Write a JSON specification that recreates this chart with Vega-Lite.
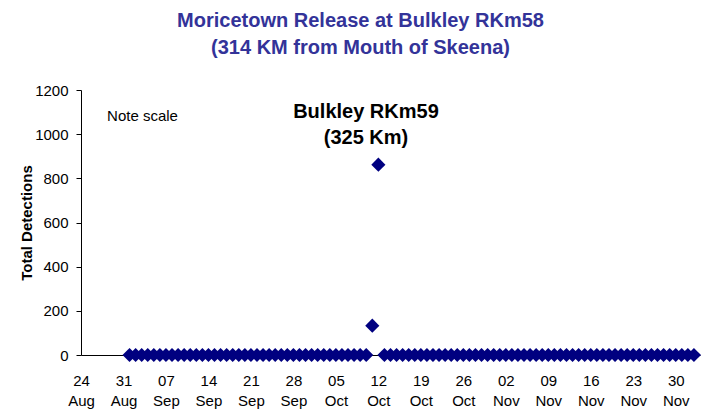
{
  "$schema": "https://vega.github.io/schema/vega-lite/v6.json",
  "autosize": "none",
  "width": 619,
  "height": 265,
  "padding": {"left": 81, "top": 90, "right": 3, "bottom": 59},
  "background": "white",
  "config": {"view": {"stroke": null}, "font": "Liberation Sans"},
  "title": {
    "text": ["Moricetown Release at Bulkley RKm58", "(314 KM from Mouth of Skeena)"],
    "color": "#333399",
    "fontSize": 20,
    "fontWeight": "bold",
    "font": "Liberation Sans",
    "lineHeight": 27,
    "anchor": "middle",
    "dx": -30,
    "offset": 25
  },
  "data": {
    "values": [
      {"date": "2008-09-01", "detections": 0}, {"date": "2008-09-02", "detections": 0}, {"date": "2008-09-03", "detections": 0}, {"date": "2008-09-04", "detections": 0}, {"date": "2008-09-05", "detections": 0}, {"date": "2008-09-06", "detections": 0}, {"date": "2008-09-07", "detections": 0}, {"date": "2008-09-08", "detections": 0}, {"date": "2008-09-09", "detections": 0}, {"date": "2008-09-10", "detections": 0},
      {"date": "2008-09-11", "detections": 0}, {"date": "2008-09-12", "detections": 0}, {"date": "2008-09-13", "detections": 0}, {"date": "2008-09-14", "detections": 0}, {"date": "2008-09-15", "detections": 0}, {"date": "2008-09-16", "detections": 0}, {"date": "2008-09-17", "detections": 0}, {"date": "2008-09-18", "detections": 0}, {"date": "2008-09-19", "detections": 0}, {"date": "2008-09-20", "detections": 0},
      {"date": "2008-09-21", "detections": 0}, {"date": "2008-09-22", "detections": 0}, {"date": "2008-09-23", "detections": 0}, {"date": "2008-09-24", "detections": 0}, {"date": "2008-09-25", "detections": 0}, {"date": "2008-09-26", "detections": 0}, {"date": "2008-09-27", "detections": 0}, {"date": "2008-09-28", "detections": 0}, {"date": "2008-09-29", "detections": 0}, {"date": "2008-09-30", "detections": 0},
      {"date": "2008-10-01", "detections": 0}, {"date": "2008-10-02", "detections": 0}, {"date": "2008-10-03", "detections": 0}, {"date": "2008-10-04", "detections": 0}, {"date": "2008-10-05", "detections": 0}, {"date": "2008-10-06", "detections": 0}, {"date": "2008-10-07", "detections": 0}, {"date": "2008-10-08", "detections": 0}, {"date": "2008-10-09", "detections": 0}, {"date": "2008-10-10", "detections": 0},
      {"date": "2008-10-11", "detections": 133}, {"date": "2008-10-12", "detections": 862},
      {"date": "2008-10-13", "detections": 0}, {"date": "2008-10-14", "detections": 0}, {"date": "2008-10-15", "detections": 0}, {"date": "2008-10-16", "detections": 0}, {"date": "2008-10-17", "detections": 0}, {"date": "2008-10-18", "detections": 0}, {"date": "2008-10-19", "detections": 0}, {"date": "2008-10-20", "detections": 0},
      {"date": "2008-10-21", "detections": 0}, {"date": "2008-10-22", "detections": 0}, {"date": "2008-10-23", "detections": 0}, {"date": "2008-10-24", "detections": 0}, {"date": "2008-10-25", "detections": 0}, {"date": "2008-10-26", "detections": 0}, {"date": "2008-10-27", "detections": 0}, {"date": "2008-10-28", "detections": 0}, {"date": "2008-10-29", "detections": 0}, {"date": "2008-10-30", "detections": 0},
      {"date": "2008-10-31", "detections": 0}, {"date": "2008-11-01", "detections": 0}, {"date": "2008-11-02", "detections": 0}, {"date": "2008-11-03", "detections": 0}, {"date": "2008-11-04", "detections": 0}, {"date": "2008-11-05", "detections": 0}, {"date": "2008-11-06", "detections": 0}, {"date": "2008-11-07", "detections": 0}, {"date": "2008-11-08", "detections": 0}, {"date": "2008-11-09", "detections": 0},
      {"date": "2008-11-10", "detections": 0}, {"date": "2008-11-11", "detections": 0}, {"date": "2008-11-12", "detections": 0}, {"date": "2008-11-13", "detections": 0}, {"date": "2008-11-14", "detections": 0}, {"date": "2008-11-15", "detections": 0}, {"date": "2008-11-16", "detections": 0}, {"date": "2008-11-17", "detections": 0}, {"date": "2008-11-18", "detections": 0}, {"date": "2008-11-19", "detections": 0},
      {"date": "2008-11-20", "detections": 0}, {"date": "2008-11-21", "detections": 0}, {"date": "2008-11-22", "detections": 0}, {"date": "2008-11-23", "detections": 0}, {"date": "2008-11-24", "detections": 0}, {"date": "2008-11-25", "detections": 0}, {"date": "2008-11-26", "detections": 0}, {"date": "2008-11-27", "detections": 0}, {"date": "2008-11-28", "detections": 0}, {"date": "2008-11-29", "detections": 0},
      {"date": "2008-11-30", "detections": 0}, {"date": "2008-12-01", "detections": 0}, {"date": "2008-12-02", "detections": 0}, {"date": "2008-12-03", "detections": 0}
    ]
  },
  "layer": [
    {
      "mark": {"type": "point", "shape": "diamond", "filled": true, "size": 200, "color": "#000080", "opacity": 1},
      "encoding": {
        "x": {
          "field": "date",
          "type": "temporal",
          "scale": {"domain": ["2008-08-24", "2008-12-04"]},
          "axis": {
            "title": null,
            "grid": false,
            "ticks": false,
            "domainColor": "black",
            "values": ["2008-08-24", "2008-08-31", "2008-09-07", "2008-09-14", "2008-09-21", "2008-09-28", "2008-10-05", "2008-10-12", "2008-10-19", "2008-10-26", "2008-11-02", "2008-11-09", "2008-11-16", "2008-11-23", "2008-11-30"],
            "labelExpr": "[timeFormat(datum.value, '%d'), timeFormat(datum.value, '%b')]",
            "labelFont": "Liberation Sans",
            "labelFontSize": 15,
            "labelColor": "black",
            "labelLineHeight": 20,
            "labelPadding": 18,
            "labelAngle": 0,
            "labelAlign": "center",
            "labelOverlap": false,
            "labelFlush": false
          }
        },
        "y": {
          "field": "detections",
          "type": "quantitative",
          "scale": {"domain": [0, 1200]},
          "axis": {
            "title": "Total Detections",
            "titleFont": "Liberation Sans",
            "titleFontSize": 15,
            "titleFontWeight": "bold",
            "titleColor": "black",
            "titlePadding": 0,
            "values": [0, 200, 400, 600, 800, 1000, 1200],
            "format": "d",
            "grid": false,
            "tickColor": "black",
            "tickSize": 5,
            "domainColor": "black",
            "labelFont": "Liberation Sans",
            "labelFontSize": 15,
            "labelColor": "black",
            "labelPadding": 8
          }
        }
      }
    },
    {
      "data": {"values": [{}]},
      "mark": {"type": "text", "text": "Note scale", "align": "left", "baseline": "middle", "fontSize": 15, "font": "Liberation Sans", "color": "black"},
      "encoding": {
        "x": {"datum": {"year": 2008, "month": 8, "date": 28, "hours": 7}, "type": "temporal"},
        "y": {"datum": 1082, "type": "quantitative"}
      }
    },
    {
      "data": {"values": [{}]},
      "mark": {"type": "text", "text": ["Bulkley RKm59", "(325 Km)"], "align": "center", "baseline": "middle", "fontSize": 20, "fontWeight": "bold", "font": "Liberation Sans", "color": "black", "lineHeight": 26},
      "encoding": {
        "x": {"datum": {"year": 2008, "month": 10, "date": 9, "hours": 23}, "type": "temporal"},
        "y": {"datum": 1100, "type": "quantitative"}
      }
    }
  ]
}
